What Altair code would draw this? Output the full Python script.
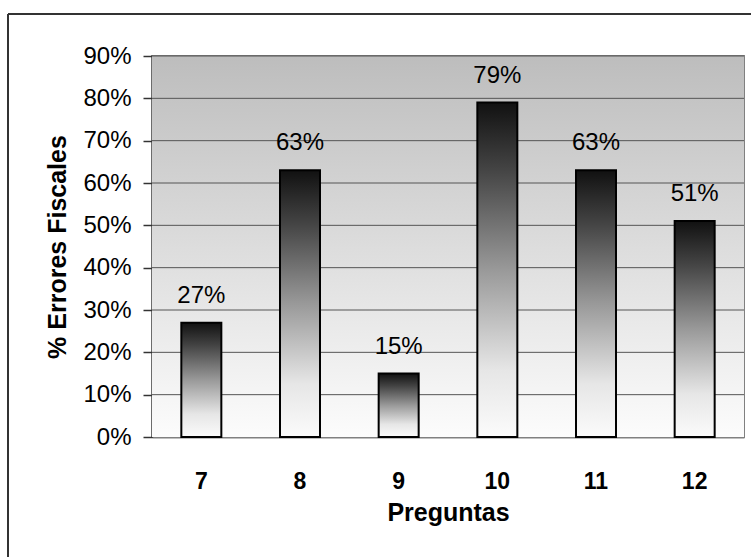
import altair as alt
import pandas as pd

preguntas = ["7", "8", "9", "10", "11", "12"]
errores = [0.27, 0.63, 0.15, 0.79, 0.63, 0.51]
y_ticks = [0.0, 0.1, 0.2, 0.3, 0.4, 0.5, 0.6, 0.7, 0.8, 0.9]
y_range = [0.0, 0.9]

df = pd.DataFrame({"Pregunta": preguntas, "Error": errores})
bg_df = pd.DataFrame({"lo": [y_range[0]], "hi": [y_range[1]]})
grid_df = pd.DataFrame({"t": y_ticks[1:]})

FONT = "Liberation Sans"

bar_grad = alt.Gradient(
    gradient="linear",
    x1=0, x2=0, y1=0, y2=1,
    stops=[
        alt.GradientStop(color="#111111", offset=0),
        alt.GradientStop(color="#444444", offset=0.2),
        alt.GradientStop(color="#999999", offset=0.5),
        alt.GradientStop(color="#e6e6e6", offset=0.8),
        alt.GradientStop(color="#fbfbfb", offset=1),
    ],
)

bg_grad = alt.Gradient(
    gradient="linear",
    x1=0, x2=0, y1=0, y2=1,
    stops=[
        alt.GradientStop(color="#bdbdbd", offset=0),
        alt.GradientStop(color="#fcfcfc", offset=1),
    ],
)

x_enc = alt.X(
    "Pregunta:N",
    sort=preguntas,
    scale=alt.Scale(paddingInner=0, paddingOuter=0),
    axis=alt.Axis(
        title="Preguntas",
        labelAngle=0,
        labelFont=FONT,
        labelFontSize=23,
        labelFontWeight="bold",
        labelColor="black",
        labelPadding=33,
        ticks=False,
        domainColor="#808080",
        domainWidth=2,
        titleFont=FONT,
        titleFontSize=25,
        titleFontWeight="bold",
        titleColor="black",
        titlePadding=7,
    ),
)

y_scale = alt.Scale(domain=y_range, nice=False)

y_enc = alt.Y(
    "Error:Q",
    scale=y_scale,
    axis=alt.Axis(
        title="% Errores Fiscales",
        values=y_ticks,
        format=".0%",
        labelFont=FONT,
        labelFontSize=24,
        labelColor="black",
        labelPadding=12,
        tickSize=9,
        tickColor="#333333",
        tickWidth=1.5,
        domainColor="#333333",
        domainWidth=1.5,
        grid=False,
        titleFont=FONT,
        titleFontSize=25,
        titleFontWeight="bold",
        titleColor="black",
        titlePadding=12,
    ),
)

background = alt.Chart(bg_df).mark_rect(fill=bg_grad).encode(
    y=alt.Y("hi:Q", scale=y_scale),
    y2="lo:Q",
)

grid = alt.Chart(grid_df).mark_rule(color="#555555", strokeWidth=1).encode(
    y=alt.Y("t:Q", scale=y_scale),
)

bars = alt.Chart(df).mark_bar(
    size=40, fill=bar_grad, stroke="black", strokeWidth=2
).encode(x=x_enc, y=y_enc)

labels = alt.Chart(df).mark_text(
    font=FONT, fontSize=24, color="black", baseline="alphabetic", dy=-20
).encode(
    x=alt.X("Pregunta:N", sort=preguntas),
    y=alt.Y("Error:Q"),
    text=alt.Text("Error:Q", format=".0%"),
)

frame_top = alt.Chart(pd.DataFrame({"a": [0]})).mark_rule(
    color="#333333", strokeWidth=2
).encode(x=alt.value(-144), x2=alt.value(620), y=alt.value(-42))

frame_left = alt.Chart(pd.DataFrame({"a": [0]})).mark_rule(
    color="#333333", strokeWidth=2
).encode(x=alt.value(-144), y=alt.value(-42), y2=alt.value(520))

chart = alt.layer(background, grid, bars, labels, frame_top, frame_left).properties(
    width=592,
    height=381,
    autosize=alt.AutoSizeParams(type="none"),
    padding={"left": 152, "top": 56, "right": 7, "bottom": 120},
    background="white",
).configure_view(
    stroke="#808080", strokeWidth=2
)

chart.save("out.html", embed_options={"renderer": "svg", "actions": False})
